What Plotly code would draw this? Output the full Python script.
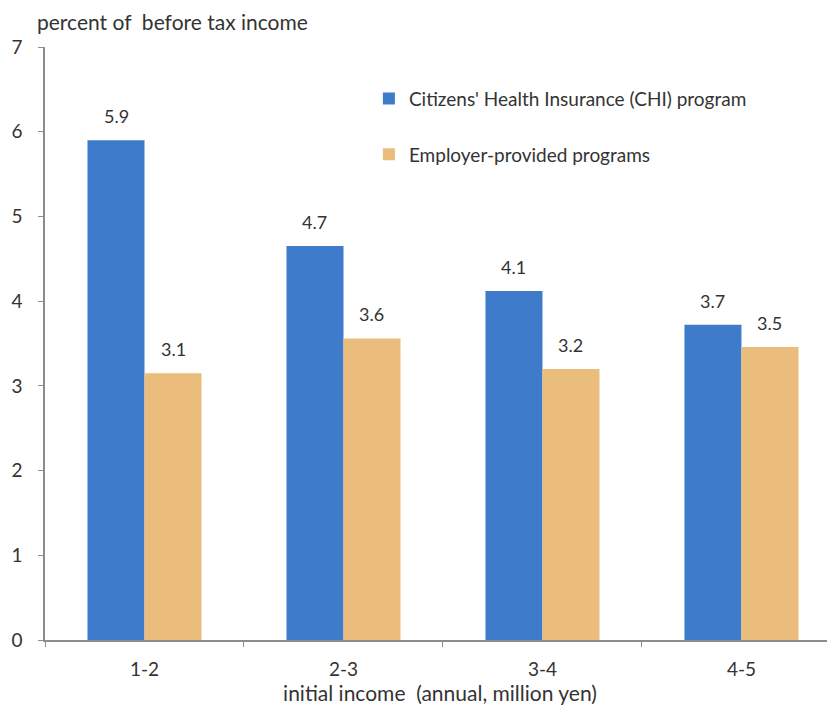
import plotly.graph_objects as go

categories = ["1-2", "2-3", "3-4", "4-5"]
chi_values = [5.9, 4.65, 4.12, 3.72]
chi_labels = ["5.9", "4.7", "4.1", "3.7"]
emp_values = [3.15, 3.56, 3.2, 3.46]
emp_labels = ["3.1", "3.6", "3.2", "3.5"]
series_names = ["Citizens' Health Insurance (CHI) program", "Employer-provided programs"]
y_ticks = [0, 1, 2, 3, 4, 5, 6, 7]
y_title = "percent of  before tax income"
x_title = "initial income  (annual, million yen)"

BLUE = "#3f7bcb"
TAN = "#ebbd7d"
FONT = "Lato, 'Open Sans', sans-serif"
TXT = "#333333"

# page body has an 8px margin, so the figure is sized/offset to compensate
W, H = 827, 710
PW, PH = 790, 593  # plot area size in px

fig = go.Figure()
fig.add_trace(go.Bar(x=categories, y=chi_values, name=series_names[0],
                     marker=dict(color=BLUE, line=dict(width=0)), legendgroup="a"))
fig.add_trace(go.Bar(x=categories, y=emp_values, name=series_names[1],
                     marker=dict(color=TAN, line=dict(width=0)), legendgroup="b"))

anns = []
for i, c in enumerate(categories):
    anns.append(dict(x=c, y=chi_values[i], text=chi_labels[i], xref="x", yref="y",
                     showarrow=False, yanchor="bottom", yshift=11, xshift=-28.5,
                     font=dict(size=18, color=TXT, family=FONT)))
    anns.append(dict(x=c, y=emp_values[i], text=emp_labels[i], xref="x", yref="y",
                     showarrow=False, yanchor="bottom", yshift=11, xshift=28.5,
                     font=dict(size=18, color=TXT, family=FONT)))

anns.append(dict(text=y_title, xref="paper", yref="paper", x=-10/PW, y=1 + 26/PH,
                 xanchor="left", yanchor="middle", showarrow=False,
                 font=dict(size=21, color=TXT, family=FONT)))

fig.update_layout(
    width=W, height=H,
    margin=dict(l=37, r=0, t=39, b=78),
    paper_bgcolor="white", plot_bgcolor="white",
    barmode="group", bargap=0.427, bargroupgap=0,
    font=dict(family=FONT, size=18, color=TXT),
    legend=dict(x=0.41, y=0.945, xanchor="left", yanchor="top",
                bgcolor="rgba(0,0,0,0)", font=dict(size=19, color=TXT, family=FONT),
                tracegroupgap=28, itemclick=False),
    annotations=anns,
    xaxis=dict(range=[-0.5, 3.47], showline=True, linecolor="#8c8c8c", linewidth=1.5,
               ticks="outside", tickson="boundaries", ticklen=5, tickcolor="#8c8c8c",
               showgrid=False, ticklabelstandoff=11, tickfont=dict(size=19),
               title=dict(text=x_title, standoff=8, font=dict(size=21))),
    yaxis=dict(range=[0, 7], tickvals=y_ticks, showline=True, linecolor="#8c8c8c",
               linewidth=1.5, ticks="outside", ticklen=5, tickcolor="#8c8c8c",
               showgrid=False, zeroline=False, ticklabelstandoff=12,
               tickfont=dict(size=19)),
)

fig.write_html("out.html")
